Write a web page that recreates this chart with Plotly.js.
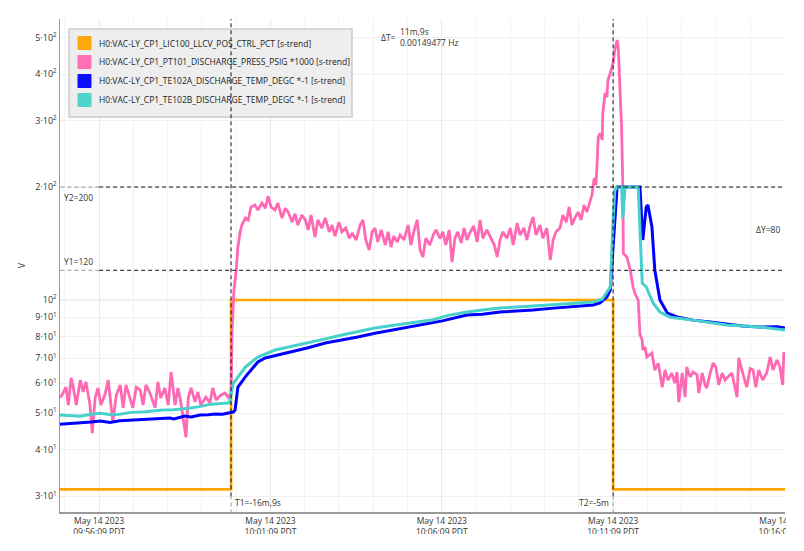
<!DOCTYPE html>
<html>
<head>
<meta charset="utf-8">
<script src="https://cdn.plot.ly/plotly-3.0.1.min.js"></script>
<style>
  body { margin: 0; background: #fff; }
  #chart { width: 786px; height: 534px; overflow: hidden; }
</style>
</head>
<body>
<div id="chart"></div>
<script>
var DAY = '2023-05-14 ';

// series names
var seriesNames = [
  'H0:VAC-LY_CP1_LIC100_LLCV_POS_CTRL_PCT [s-trend]',
  'H0:VAC-LY_CP1_PT101_DISCHARGE_PRESS_PSIG *1000 [s-trend]',
  'H0:VAC-LY_CP1_TE102A_DISCHARGE_TEMP_DEGC *-1 [s-trend]',
  'H0:VAC-LY_CP1_TE102B_DISCHARGE_TEMP_DEGC *-1 [s-trend]'
];
var seriesColors = ['#FFA500', '#FF69B4', '#0000FF', '#48D1CC'];

// LIC100 valve position (step)
var lcvTime = ['09:55:00', '10:00:00', '10:11:09', '10:16:10'];
var lcvVal  = [31.3, 100, 31.3, 31.3];

// PT101 discharge pressure *1000
var ptTime = ['09:55:00','09:55:02','09:55:11','09:55:15','09:55:20','09:55:23','09:55:29','09:55:36','09:55:41','09:55:46',
  '09:55:53','09:55:57','09:56:02','09:56:07','09:56:12','09:56:19','09:56:25','09:56:30','09:56:33','09:56:39',
  '09:56:46','09:56:51','09:56:56','09:57:03','09:57:08','09:57:14','09:57:21','09:57:26','09:57:31','09:57:38',
  '09:57:47','09:57:52','09:57:57','09:58:04','09:58:10','09:58:15','09:58:22','09:58:27','09:58:32','09:58:41',
  '09:58:45','09:58:50','09:58:57','09:59:02','09:59:07','09:59:16','09:59:23','09:59:28','09:59:34','09:59:42',
  '09:59:49','09:59:55','10:00:00','10:00:02','10:00:05','10:00:09','10:00:12','10:00:16','10:00:19',
  '10:00:25','10:00:30','10:00:35','10:00:42','10:00:47','10:00:54','10:01:00','10:01:05','10:01:10','10:01:17',
  '10:01:22','10:01:29','10:01:35','10:01:40','10:01:47','10:01:52','10:01:57','10:02:04','10:02:10','10:02:15',
  '10:02:20','10:02:27','10:02:32','10:02:39','10:02:45','10:02:52','10:02:57','10:03:02','10:03:09','10:03:14',
  '10:03:21','10:03:27','10:03:32','10:03:39','10:03:46','10:03:51','10:03:56','10:04:02','10:04:07','10:04:12',
  '10:04:17','10:04:23','10:04:30','10:04:35','10:04:40','10:04:45','10:04:51','10:04:56','10:05:03','10:05:10',
  '10:05:15','10:05:20','10:05:26','10:05:31','10:05:36','10:05:41','10:05:48','10:05:54','10:05:59','10:06:06',
  '10:06:11','10:06:16','10:06:22','10:06:27','10:06:32','10:06:37','10:06:43','10:06:48','10:06:53','10:06:58',
  '10:07:05','10:07:11','10:07:16','10:07:21','10:07:28','10:07:33','10:07:41','10:07:46','10:07:51','10:07:56',
  '10:08:03','10:08:09','10:08:14','10:08:21','10:08:26','10:08:33','10:08:38','10:08:44','10:08:49','10:08:54',
  '10:09:01','10:09:06','10:09:13','10:09:19','10:09:24','10:09:29','10:09:36','10:09:41','10:09:47','10:09:52',
  '10:09:57','10:10:02','10:10:08','10:10:13','10:10:18','10:10:23','10:10:29','10:10:32','10:10:36','10:10:39',
  '10:10:41','10:10:43','10:10:46','10:10:50','10:10:51','10:10:55','10:10:58','10:11:00','10:11:04','10:11:07',
  '10:11:09','10:11:12','10:11:16','10:11:18','10:11:21','10:11:24','10:11:26','10:11:27','10:11:33','10:11:39',
  '10:11:44','10:11:47','10:11:53','10:11:56','10:12:00','10:12:01','10:12:05','10:12:08','10:12:17','10:12:22',
  '10:12:28','10:12:35','10:12:40','10:12:45','10:12:52','10:12:57','10:13:01','10:13:04','10:13:10','10:13:15',
  '10:13:18','10:13:24','10:13:29','10:13:36','10:13:39','10:13:45','10:13:50','10:13:53','10:13:59','10:14:04',
  '10:14:09','10:14:14','10:14:20','10:14:25','10:14:30','10:14:37','10:14:46','10:14:49','10:14:56','10:15:03',
  '10:15:09','10:15:14','10:15:19','10:15:24','10:15:31','10:15:38','10:15:44','10:15:49','10:15:56','10:16:01',
  '10:16:06','10:16:08'];
var ptVal = [55.8,55.1,58.6,52.5,62.0,59.4,52.5,61.2,56.9,60.5,
  52.5,44.2,54.8,58.3,52.5,55.8,61.2,52.5,47.3,55.8,
  59.4,51.6,59.4,54.8,51.6,58.6,57.6,52.5,59.4,56.5,
  51.6,60.5,54.8,58.3,52.5,64.3,52.5,58.3,53.5,43.1,
  54.8,58.3,53.5,56.9,52.5,55.1,53.2,58.3,54.1,55.8,
  56.5,55.1,56.5,83,106,120,138,152,158.4,
  165.4,163.4,176.9,179,173.6,181.3,175.6,189.3,176.9,173.6,
  181.3,165.4,175.6,171.5,161.3,169.7,158.4,168.4,163.4,153.7,
  168.4,147.2,163.4,155.5,165.4,151.9,158.4,148.0,161.3,151.9,
  155.5,146.0,150.8,144.5,158.4,163.4,144.5,135.9,151.9,155.5,
  142.8,153.7,140.1,151.9,138.4,148.0,142.8,149.0,144.5,158.4,
  140.1,151.9,163.4,135.9,130.2,146.0,140.1,149.0,153.7,146.0,
  151.9,140.1,153.7,126.2,146.0,151.9,141.9,155.5,144.5,150.8,
  157.4,142.8,163.4,146.0,153.7,148.0,140.1,130.2,144.5,151.9,
  146.0,155.5,140.1,160.3,149.0,155.5,144.5,158.4,166.4,149.0,
  158.4,146.0,155.5,127.8,144.5,151.9,155.5,168.4,161.3,176.9,
  158.4,165.4,171.5,163.4,179,171.5,184.7,190.4,211.3,202.4,
  231.7,271.8,278,267,314.8,356,347,385.5,402.4,417.6,
  428,463,492.7,472,362,284,200,133,130.2,120.2,
  108.3,104.4,100,81,78.2,73.6,75.0,70.5,72.2,65.1,
  67.9,58.6,65.1,61.2,63.9,60.1,64.3,53.5,63.9,55.1,
  66.3,62.4,64.3,63.2,56.5,63.9,59.4,58.3,63.9,67.9,
  66.3,59.4,63.9,61.2,62.4,63.9,55.1,70.1,63.9,58.6,
  65.7,65.1,58.6,65.1,61.2,63.9,70.5,65.1,69.2,66.3,
  59.4,72.7];

// TE102A discharge temperature *-1
var teaTime = ['09:55:00','09:55:20','09:55:36','09:55:55','09:56:11','09:56:28','09:56:45','09:57:03','09:57:20','09:57:38',
  '09:57:55','09:58:13','09:58:20','09:58:39','09:58:50','09:59:06','09:59:20','09:59:32','09:59:45','09:59:57',
  '10:00:04','10:00:07','10:00:12','10:00:25','10:00:36','10:00:47','10:01:00','10:01:20','10:01:47','10:02:15',
  '10:02:45','10:03:14','10:03:42','10:04:12','10:04:42','10:05:10','10:05:40','10:06:10','10:06:53','10:07:20',
  '10:07:51','10:08:20','10:08:49','10:09:20','10:09:48','10:10:10','10:10:34','10:10:46','10:10:58','10:11:04',
  '10:11:09','10:11:16','10:11:56','10:12:01','10:12:07','10:12:10','10:12:17','10:12:22','10:12:31','10:12:44',
  '10:13:01','10:13:29','10:13:59','10:14:28','10:14:56','10:15:26','10:15:56','10:16:10'];
var teaVal = [46.7,46.9,47.0,47.3,47.6,47.2,47.7,47.9,48.0,48.2,
  48.3,48.5,48.2,49.1,48.8,49.4,49.5,49.7,49.6,50.0,
  50.3,50.9,58.6,62.4,65.5,68.4,70.1,71.2,72.7,74.6,
  76.8,78.2,79.7,81.6,83.2,84.7,86.3,88.0,91.2,91.6,
  92.9,93.3,94.1,95.0,95.8,96.3,97.0,98.2,101.9,106.3,
  138.4,200,200,144.5,176.9,179.1,156.5,120.2,100,92.3,
  90.1,88.4,87.4,86.3,85.3,84.7,84.9,84.2];

// TE102B discharge temperature *-1
var tebTime = ['09:55:00','09:55:20','09:55:36','09:55:55','09:56:11','09:56:30','09:56:45','09:57:05','09:57:30','09:58:00',
  '09:58:20','09:58:45','09:59:05','09:59:25','09:59:45','09:59:57','10:00:04','10:00:12','10:00:25','10:00:47',
  '10:01:17','10:01:45','10:02:15','10:02:45','10:03:14','10:03:42','10:04:12','10:04:42','10:05:10','10:05:54',
  '10:06:20','10:06:53','10:07:20','10:07:51','10:08:49','10:09:48','10:10:34','10:10:50','10:11:04','10:11:09',
  '10:11:12','10:11:16','10:11:24','10:11:26','10:11:30','10:11:53','10:12:00','10:12:07','10:12:19','10:12:31',
  '10:12:49','10:13:29','10:14:28','10:15:26','10:16:10'];
var tebVal = [49.4,49.2,49.0,49.6,49.9,49.5,49.6,50.2,50.4,50.9,
  51.0,51.5,52.0,52.8,52.9,53.2,60.0,62.4,66.3,70.5,
  73.6,75.2,76.8,78.8,80.7,82.5,84.2,85.5,86.8,88.6,
  91.0,92.9,94.0,95.2,96.4,97.6,98.8,100.5,108.3,163,
  196,200,200,165,200,200,110.9,108.3,98.2,92.9,
  90.0,88.4,85.8,84.7,83.2];

// axis ticks
var xTickTimes = ['09:56:09', '10:01:09', '10:06:09', '10:11:09', '10:16:09'];
var yTickVals = [30, 40, 50, 60, 70, 80, 90, 100, 200, 300, 400, 500];
var yTickText = ['3·10<sup>1</sup>','4·10<sup>1</sup>','5·10<sup>1</sup>','6·10<sup>1</sup>','7·10<sup>1</sup>',
  '8·10<sup>1</sup>','9·10<sup>1</sup>','10<sup>2</sup>','2·10<sup>2</sup>','3·10<sup>2</sup>','4·10<sup>2</sup>','5·10<sup>2</sup>'];

// cursors
var t1 = '10:00:00', t2 = '10:11:09';
var y1 = 120, y2 = 200;

function ts(arr) { return arr.map(function(t) { return DAY + t; }); }
// pixel helpers for overlay boxes (plot area 60..785 x 19..512)
function px(x) { return (x - 60) / 725; }
function py(y) { return (512 - y) / 493; }

var traces = [
  {x: ts(lcvTime), y: lcvVal, type: 'scatter', mode: 'lines', line: {color: seriesColors[0], width: 2.6, shape: 'hv'}, name: seriesNames[0]},
  {x: ts(ptTime), y: ptVal, type: 'scatter', mode: 'lines', line: {color: seriesColors[1], width: 2.8}, name: seriesNames[1]},
  {x: ts(teaTime), y: teaVal, type: 'scatter', mode: 'lines', line: {color: seriesColors[2], width: 3}, name: seriesNames[2]},
  {x: ts(tebTime), y: tebVal, type: 'scatter', mode: 'lines', line: {color: seriesColors[3], width: 3}, name: seriesNames[3]}
];

var dash = '4px,3px';
var shapes = [];
// darker grid at the decade
shapes.push({type: 'line', xref: 'paper', yref: 'y', x0: 0, x1: 1, y0: 100, y1: 100, line: {color: '#dddddd', width: 1}, layer: 'below'});
// legend box
shapes.push({type: 'rect', xref: 'paper', yref: 'paper', x0: px(69), x1: px(352), y0: py(117), y1: py(29),
  fillcolor: '#eeeeee', line: {color: '#cccccc', width: 1.5}, layer: 'above'});
var annotations = [];
for (var i = 0; i < seriesNames.length; i++) {
  var cy = 43 + i * 19;
  shapes.push({type: 'rect', xref: 'paper', yref: 'paper', x0: px(78), x1: px(91), y0: py(cy + 6.5), y1: py(cy - 6.5),
    fillcolor: seriesColors[i], line: {color: seriesColors[i], width: 1}, opacity: 0.95, layer: 'above'});
  annotations.push({xref: 'paper', yref: 'paper', x: px(97), y: py(cy), xanchor: 'left', yanchor: 'middle',
    text: seriesNames[i], showarrow: false, font: {size: 8.5, color: '#222'}});
}
// cursor lines
shapes.push({type: 'line', xref: 'x', yref: 'y', x0: DAY + t1, x1: DAY + t1, y0: 30, y1: 1000, line: {color: '#111', width: 1, dash: dash}, layer: 'above'});
shapes.push({type: 'line', xref: 'x', yref: 'y', x0: DAY + t1, x1: DAY + t1, y0: 20, y1: 30, line: {color: '#999', width: 1, dash: dash}, layer: 'above'});
shapes.push({type: 'line', xref: 'x', yref: 'y', x0: DAY + t2, x1: DAY + t2, y0: 30, y1: 1000, line: {color: '#111', width: 1, dash: dash}, layer: 'above'});
shapes.push({type: 'line', xref: 'x', yref: 'y', x0: DAY + t2, x1: DAY + t2, y0: 20, y1: 30, line: {color: '#999', width: 1, dash: dash}, layer: 'above'});
[y1, y2].forEach(function(v) {
  shapes.push({type: 'line', xref: 'x', yref: 'y', x0: DAY + '09:56:09', x1: DAY + '10:17:00', y0: v, y1: v, line: {color: '#111', width: 1, dash: dash}, layer: 'above'});
  shapes.push({type: 'line', xref: 'x', yref: 'y', x0: DAY + '09:54:00', x1: DAY + '09:56:09', y0: v, y1: v, line: {color: '#999', width: 1, dash: dash}, layer: 'above'});
});

var af = {size: 8.5, color: '#333'};
annotations.push({xref: 'paper', yref: 'y', x: px(62), y: Math.log10(y2), yshift: -10, xanchor: 'left', yanchor: 'middle', text: 'Y2=200', showarrow: false, font: af});
annotations.push({xref: 'paper', yref: 'y', x: px(62), y: Math.log10(y1), yshift: 9, xanchor: 'left', yanchor: 'middle', text: 'Y1=120', showarrow: false, font: af});
annotations.push({xref: 'x', yref: 'paper', x: DAY + t1, xshift: 2, y: py(502), xanchor: 'left', yanchor: 'middle', text: 'T1=-16m,9s', showarrow: false, font: af});
annotations.push({xref: 'x', yref: 'paper', x: DAY + t2, xshift: -2, y: py(502), xanchor: 'right', yanchor: 'middle', text: 'T2=-5m', showarrow: false, font: af});
annotations.push({xref: 'paper', yref: 'paper', x: px(398), y: py(37), xanchor: 'right', yanchor: 'middle', text: 'ΔT=', showarrow: false, font: af});
annotations.push({xref: 'paper', yref: 'paper', x: px(398), y: py(37.5), xanchor: 'left', yanchor: 'middle', align: 'left', text: '11m,9s<br>0.00149477 Hz', showarrow: false, font: af});
annotations.push({xref: 'paper', yref: 'paper', x: px(782), y: py(229), xanchor: 'right', yanchor: 'middle', text: 'ΔY=80', showarrow: false, font: af});

var layout = {
  width: 786, height: 534,
  margin: {l: 60, r: 1, t: 19, b: 22},
  paper_bgcolor: '#ffffff', plot_bgcolor: '#ffffff',
  font: {family: '"Open Sans", sans-serif', size: 9, color: '#444'},
  showlegend: false,
  xaxis: {
    type: 'date',
    range: [DAY + '09:55:00.5', DAY + '10:16:10'],
    tickvals: ts(xTickTimes),
    ticktext: xTickTimes.map(function(t) { return 'May 14 2023<br>' + t + ' PDT'; }),
    tickfont: {size: 8.5, color: '#333'},
    ticklabeloverflow: 'allow',
    ticks: '',
    showgrid: true, gridcolor: '#e9e9e9', gridwidth: 1,
    minor: {dtick: 60000, tick0: DAY + '09:55:09', showgrid: true, gridcolor: '#f3f3f3', gridwidth: 1},
    showline: true, linecolor: '#999', linewidth: 1.5,
    zeroline: false
  },
  yaxis: {
    type: 'log',
    range: [1.4353, 2.7486],
    tickvals: yTickVals,
    ticktext: yTickText,
    tickfont: {size: 9, color: '#333'},
    ticks: '',
    showgrid: true, gridcolor: '#efefef', gridwidth: 1,
    showline: true, linecolor: '#999', linewidth: 1.5,
    title: {text: 'V', font: {size: 9, color: '#333'}, standoff: 8},
    zeroline: false
  },
  shapes: shapes,
  annotations: annotations
};

Plotly.newPlot('chart', traces, layout, {displayModeBar: false, staticPlot: true});
</script>
</body>
</html>
